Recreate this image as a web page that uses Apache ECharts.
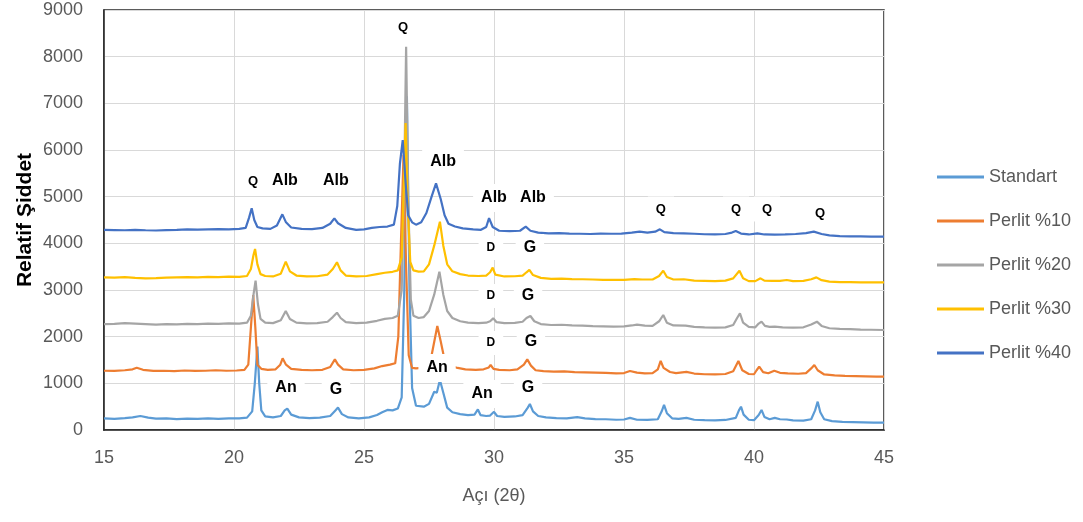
<!DOCTYPE html>
<html><head><meta charset="utf-8">
<script src="https://cdn.jsdelivr.net/npm/echarts@6/dist/echarts.min.js"></script>
<style>html,body{margin:0;padding:0;background:#fff}#c{width:1083px;height:522px}</style>
</head><body><div id="c"></div>
<script>
const seriesNames = ['Standart', 'Perlit %10', 'Perlit %20', 'Perlit %30', 'Perlit %40'];
const seriesColors = ['#5B9BD5', '#ED7D31', '#A5A5A5', '#FFC000', '#4472C4'];
const xTicks = [15, 20, 25, 30, 35, 40, 45];
const yTicks = [0, 1000, 2000, 3000, 4000, 5000, 6000, 7000, 8000, 9000];

const standart = [[15.0,250],[15.4,240],[15.8,255],[16.1,270],[16.4,300],[16.7,265],[17.0,245],[17.4,250],[17.8,235],[18.2,245],[18.6,240],[19.0,250],[19.4,240],[19.8,250],[20.2,250],[20.5,265],[20.7,400],[20.8,1000],[20.9,1786],[20.97,1000],[21.05,420],[21.2,290],[21.5,270],[21.8,300],[21.95,420],[22.05,460],[22.2,330],[22.5,270],[22.9,255],[23.3,265],[23.7,300],[23.9,420],[24.0,480],[24.15,340],[24.4,270],[24.8,250],[25.2,270],[25.5,320],[25.7,380],[25.9,430],[26.1,420],[26.3,460],[26.45,700],[26.55,3000],[26.65,7150],[26.75,3000],[26.85,900],[27.0,520],[27.3,500],[27.5,560],[27.7,820],[27.8,800],[27.92,1070],[28.05,800],[28.2,480],[28.4,380],[28.7,340],[29.0,320],[29.25,330],[29.38,440],[29.48,320],[29.7,300],[29.85,310],[30.0,390],[30.12,300],[30.4,280],[30.8,290],[31.1,320],[31.3,480],[31.38,557],[31.5,400],[31.7,300],[32.0,270],[32.4,255],[32.8,250],[33.2,275],[33.5,250],[33.9,235],[34.3,230],[34.7,220],[35.0,225],[35.23,260],[35.5,220],[35.9,215],[36.3,230],[36.45,400],[36.54,536],[36.65,360],[36.85,250],[37.1,240],[37.4,260],[37.7,220],[38.1,210],[38.5,205],[38.9,215],[39.3,260],[39.42,420],[39.5,500],[39.6,330],[39.8,220],[40.0,210],[40.18,320],[40.29,430],[40.4,280],[40.6,230],[40.8,260],[41.0,230],[41.26,225],[41.5,205],[41.9,200],[42.2,230],[42.35,420],[42.45,607],[42.55,380],[42.7,230],[43.0,190],[43.4,175],[43.8,170],[44.2,165],[44.6,160],[45.0,157]];

const perlit10 = [[15.0,1270],[15.4,1265],[15.8,1280],[16.1,1300],[16.26,1335],[16.5,1290],[16.9,1265],[17.3,1270],[17.7,1260],[18.1,1275],[18.5,1265],[18.9,1270],[19.3,1280],[19.7,1270],[20.1,1275],[20.4,1290],[20.55,1400],[20.65,2200],[20.74,2890],[20.82,2200],[20.9,1400],[21.05,1310],[21.3,1290],[21.6,1300],[21.78,1400],[21.87,1536],[22.0,1400],[22.2,1310],[22.6,1290],[23.0,1280],[23.4,1290],[23.7,1350],[23.88,1514],[24.0,1400],[24.2,1300],[24.6,1280],[25.0,1290],[25.4,1320],[25.7,1370],[26.0,1400],[26.2,1430],[26.32,2000],[26.42,4000],[26.52,5900],[26.62,3500],[26.72,1600],[26.85,1330],[27.0,1320],[27.2,1330],[27.4,1350],[27.6,1600],[27.82,2229],[27.95,1900],[28.1,1500],[28.3,1380],[28.6,1330],[28.9,1300],[29.3,1290],[29.6,1300],[29.8,1340],[29.87,1393],[29.98,1310],[30.2,1290],[30.6,1280],[30.9,1300],[31.15,1400],[31.28,1514],[31.42,1380],[31.6,1280],[31.9,1260],[32.3,1250],[32.7,1255],[33.1,1240],[33.5,1235],[33.9,1230],[34.3,1225],[34.7,1215],[35.0,1220],[35.23,1264],[35.5,1230],[35.8,1215],[36.1,1220],[36.3,1300],[36.41,1479],[36.52,1330],[36.77,1243],[37.0,1220],[37.4,1245],[37.7,1210],[38.1,1195],[38.5,1190],[38.9,1200],[39.2,1260],[39.4,1479],[39.55,1280],[39.8,1200],[40.0,1195],[40.1,1280],[40.2,1357],[40.35,1240],[40.55,1215],[40.78,1271],[41.0,1225],[41.3,1215],[41.7,1205],[42.0,1220],[42.2,1320],[42.32,1393],[42.45,1280],[42.7,1190],[43.1,1170],[43.5,1160],[43.9,1155],[44.3,1150],[44.7,1145],[45.0,1143]];

const perlit20 = [[15.0,2270],[15.4,2275],[15.8,2290],[16.2,2280],[16.6,2270],[17.0,2260],[17.4,2270],[17.8,2265],[18.2,2275],[18.6,2270],[19.0,2280],[19.4,2275],[19.8,2285],[20.2,2280],[20.5,2300],[20.65,2450],[20.75,2900],[20.83,3200],[20.92,2700],[21.02,2380],[21.2,2300],[21.5,2290],[21.8,2350],[21.99,2550],[22.15,2380],[22.4,2300],[22.8,2285],[23.2,2290],[23.6,2320],[23.8,2420],[23.96,2514],[24.1,2400],[24.3,2310],[24.7,2290],[25.1,2300],[25.5,2340],[25.8,2380],[26.1,2400],[26.3,2450],[26.45,3000],[26.55,5500],[26.62,8214],[26.7,5000],[26.8,2800],[26.9,2450],[27.1,2400],[27.3,2420],[27.5,2550],[27.7,2900],[27.9,3393],[28.05,2900],[28.2,2550],[28.4,2400],[28.7,2330],[29.0,2300],[29.4,2290],[29.7,2300],[29.85,2330],[29.97,2393],[30.1,2310],[30.4,2290],[30.8,2295],[31.1,2320],[31.25,2400],[31.4,2443],[31.55,2330],[31.8,2270],[32.2,2250],[32.6,2255],[33.0,2240],[33.4,2235],[33.8,2225],[34.2,2220],[34.6,2215],[35.0,2220],[35.3,2240],[35.5,2257],[35.8,2235],[36.1,2230],[36.35,2330],[36.51,2464],[36.65,2300],[36.9,2240],[37.37,2236],[37.7,2210],[38.1,2200],[38.5,2195],[38.9,2200],[39.2,2250],[39.35,2400],[39.46,2500],[39.58,2300],[39.8,2210],[40.05,2200],[40.18,2280],[40.29,2321],[40.42,2230],[40.6,2210],[40.8,2214],[41.1,2200],[41.5,2195],[41.9,2200],[42.2,2260],[42.42,2321],[42.6,2230],[42.9,2180],[43.3,2165],[43.7,2160],[44.1,2150],[44.5,2148],[45.0,2143]];

const perlit30 = [[15.0,3270],[15.4,3265],[15.8,3275],[16.2,3260],[16.6,3250],[17.0,3255],[17.4,3265],[17.8,3270],[18.2,3275],[18.6,3270],[19.0,3280],[19.4,3275],[19.8,3285],[20.2,3280],[20.5,3300],[20.65,3450],[20.75,3750],[20.81,3879],[20.9,3550],[21.02,3340],[21.2,3300],[21.5,3290],[21.8,3350],[21.99,3607],[22.15,3400],[22.4,3310],[22.8,3290],[23.2,3295],[23.6,3330],[23.8,3450],[23.96,3593],[24.1,3420],[24.3,3310],[24.7,3290],[25.1,3300],[25.5,3340],[25.8,3370],[26.1,3390],[26.3,3420],[26.45,3700],[26.53,5200],[26.6,6580],[26.68,4800],[26.78,3600],[26.9,3420],[27.1,3393],[27.3,3400],[27.5,3550],[27.7,3950],[27.92,4464],[28.05,3950],[28.2,3550],[28.4,3400],[28.7,3340],[29.0,3310],[29.4,3300],[29.7,3310],[29.85,3380],[29.95,3479],[30.05,3330],[30.4,3290],[30.8,3295],[31.1,3310],[31.25,3380],[31.36,3429],[31.5,3320],[31.8,3260],[32.2,3240],[32.6,3245],[33.0,3235],[33.4,3230],[33.8,3225],[34.2,3215],[34.6,3220],[35.0,3215],[35.4,3235],[35.7,3225],[36.1,3225],[36.35,3300],[36.51,3414],[36.65,3280],[36.9,3225],[37.3,3230],[37.7,3200],[38.1,3195],[38.5,3190],[38.9,3200],[39.2,3250],[39.44,3414],[39.58,3250],[39.8,3190],[40.05,3190],[40.25,3250],[40.4,3200],[40.7,3195],[41.0,3195],[41.26,3215],[41.5,3190],[41.9,3195],[42.2,3230],[42.4,3271],[42.6,3210],[42.9,3180],[43.3,3170],[43.7,3168],[44.1,3165],[44.5,3163],[45.0,3164]];

const perlit40 = [[15.0,4290],[15.4,4285],[15.8,4280],[16.2,4290],[16.6,4280],[17.0,4275],[17.4,4285],[17.8,4290],[18.2,4300],[18.6,4295],[19.0,4300],[19.4,4305],[19.8,4300],[20.2,4310],[20.45,4330],[20.58,4550],[20.68,4750],[20.78,4500],[20.9,4350],[21.1,4320],[21.4,4310],[21.65,4380],[21.86,4621],[22.0,4450],[22.2,4340],[22.6,4310],[23.0,4305],[23.4,4330],[23.7,4420],[23.86,4536],[24.0,4430],[24.3,4330],[24.7,4290],[25.0,4300],[25.3,4330],[25.6,4350],[25.9,4360],[26.15,4400],[26.28,4800],[26.38,5700],[26.49,6214],[26.6,5300],[26.7,4600],[26.85,4450],[27.0,4400],[27.2,4450],[27.4,4650],[27.6,5000],[27.77,5286],[27.95,4950],[28.1,4600],[28.25,4420],[28.5,4360],[28.8,4320],[29.2,4300],[29.5,4290],[29.7,4350],[29.81,4540],[29.95,4350],[30.2,4270],[30.6,4260],[31.0,4270],[31.22,4357],[31.4,4270],[31.7,4230],[32.1,4215],[32.5,4220],[32.9,4210],[33.3,4205],[33.7,4200],[34.1,4210],[34.5,4205],[34.9,4210],[35.3,4230],[35.6,4250],[35.9,4230],[36.2,4250],[36.38,4300],[36.55,4240],[36.9,4220],[37.3,4215],[37.7,4205],[38.1,4195],[38.5,4190],[38.9,4200],[39.15,4230],[39.3,4264],[39.5,4210],[39.8,4190],[40.13,4214],[40.4,4190],[40.8,4185],[41.2,4190],[41.6,4200],[42.0,4220],[42.3,4250],[42.6,4200],[42.9,4170],[43.3,4155],[43.7,4150],[44.1,4148],[44.5,4145],[45.0,4143]];

// peak annotations: [angle, intensity, text, fontSize]
const annotations = [
  [20.73,5336,'Q',13],[21.96,5336,'Alb',16],[23.92,5336,'Alb',16],[26.5,8636,'Q',13],
  [28.04,5743,'Alb',16],[30.0,4972,'Alb',16],[31.5,4972,'Alb',16],
  [36.42,4736,'Q',13],[39.31,4736,'Q',13],[40.5,4736,'Q',13],[42.54,4650,'Q',13],
  [29.88,3900,'D',12],[31.38,3900,'G',16],[29.88,2872,'D',12],[31.31,2872,'G',16],
  [29.88,1864,'D',12],[31.42,1886,'G',16],[27.81,1329,'An',16],
  [22.0,900,'An',16],[23.92,857,'G',16],[29.54,771,'An',16],[31.31,900,'G',16]
];

const allData = [standart, perlit10, perlit20, perlit30, perlit40];
const FONT = "'Liberation Sans', Arial, sans-serif";

const chart = echarts.init(document.getElementById('c'));
const series = seriesNames.map((n, i) => ({
  name: n, type: 'line', data: allData[i], symbol: 'none', showSymbol: false,
  lineStyle: { width: 2.2, color: seriesColors[i] }, itemStyle: { color: seriesColors[i] },
  z: 2 + i * 0.01
}));
series.push({
  name: 'labels', type: 'scatter', silent: true, z: 5,
  symbolSize: 1, itemStyle: { color: 'rgba(0,0,0,0)' },
  data: annotations.map(a => ({ name: a[2], value: [a[0], a[1]], label: { fontSize: a[3] } })),
  label: { show: true, position: 'inside', formatter: '{b}', color: '#000000', fontWeight: 'bold',
    fontFamily: FONT, backgroundColor: '#ffffff', padding: [6, 8], opacity: 1 }
});

chart.setOption({
  animation: false,
  backgroundColor: '#ffffff',
  textStyle: { fontFamily: FONT },
  grid: { left: 104, right: 199, top: 10, bottom: 92, show: true, borderColor: '#262626', borderWidth: 1.5, backgroundColor: 'transparent' },
  legend: {
    data: seriesNames, orient: 'vertical', left: 932, top: 162, itemGap: 24,
    itemWidth: 47, itemHeight: 3, icon: 'rect',
    textStyle: { color: '#595959', fontSize: 18, lineHeight: 20, fontFamily: FONT }
  },
  xAxis: {
    type: 'value', min: xTicks[0], max: xTicks[xTicks.length - 1], interval: xTicks[1] - xTicks[0],
    name: 'Açı (2θ)', nameLocation: 'middle', nameGap: 57,
    nameTextStyle: { color: '#595959', fontSize: 18, fontFamily: FONT },
    axisLine: { show: true, lineStyle: { color: '#262626', width: 1.5 } },
    axisTick: { show: false },
    axisLabel: { color: '#595959', fontSize: 18, margin: 19, fontFamily: FONT, formatter: v => String(v) },
    splitLine: { show: true, lineStyle: { color: '#D9D9D9', width: 1 } }
  },
  yAxis: {
    type: 'value', min: yTicks[0], max: yTicks[yTicks.length - 1], interval: yTicks[1] - yTicks[0],
    axisLine: { show: true, lineStyle: { color: '#262626', width: 1.5 } },
    axisTick: { show: false },
    axisLabel: { color: '#595959', fontSize: 18, margin: 21, fontFamily: FONT, formatter: v => String(v) },
    splitLine: { show: true, lineStyle: { color: '#D9D9D9', width: 1 } }
  },
  graphic: [{
    type: 'text', x: 25, y: 220, rotation: Math.PI / 2, silent: true,
    style: { text: 'Relatif Şiddet', fill: '#000000', font: "bold 21px 'Liberation Sans', Arial, sans-serif",
      textAlign: 'center', textVerticalAlign: 'middle' }
  }],
  series: series
});
</script></body></html>
